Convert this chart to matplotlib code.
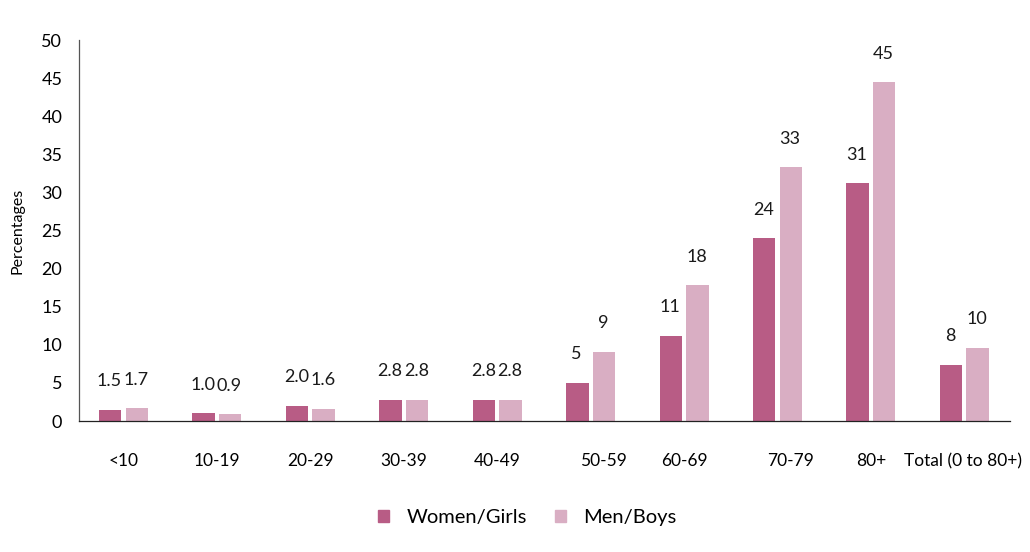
import numpy as np
import matplotlib.pyplot as plt
from matplotlib.patches import Patch

plt.rcParams['font.family'] = ['Lato', 'DejaVu Sans']

# data
groups = ['<10', '10-19', '20-29', '30-39', '40-49', '50-59', '60-69', '70-79', '80+', 'Total (0 to 80+)']
women = [1.5, 1.0, 2.0, 2.8, 2.8, 5.0, 11.2, 24.0, 31.2, 7.4]
men = [1.7, 0.9, 1.6, 2.8, 2.8, 9.1, 17.8, 33.3, 44.5, 9.6]
women_lbl = ['1.5', '1.0', '2.0', '2.8', '2.8', '5', '11', '24', '31', '8']
men_lbl = ['1.7', '0.9', '1.6', '2.8', '2.8', '9', '18', '33', '45', '10']

c_women = '#B85C85'
c_men = '#D9AEC3'

fig = plt.figure(figsize=(10.3, 5.52), dpi=100)
ax = fig.add_axes([0.0767, 0.2373, 0.904, 0.690])

x = np.arange(len(groups))
w = 0.24
off = 0.142
b1 = ax.bar(x - off, women, w, color=c_women)
b2 = ax.bar(x + off, men, w, color=c_men)

for bars, labels in [(b1, women_lbl), (b2, men_lbl)]:
    for b, t in zip(bars, labels):
        ax.annotate(t, (b.get_x() + b.get_width() / 2, b.get_height()),
                    xytext=(-0.5, 20.5), textcoords='offset points',
                    ha='center', va='center', fontsize=13, color='#1a1a1a')

# two of the category labels sit right of their group in the original
shift = np.array([0, 0, 0, 0, 0, 0.14, 0, 0.135, 0, -0.01])
ax.set_xlim(-0.476, 9.49)
ax.set_ylim(0, 50)
ax.set_yticks(range(0, 51, 5))
ax.set_xticks(x + shift)
ax.set_xticklabels(groups)
ax.tick_params(axis='x', length=0, pad=23, labelsize=12.5)
ax.tick_params(axis='y', length=0, pad=12, labelsize=13)
ax.set_ylabel('Percentages', fontsize=11.5, labelpad=12)

for s in ['top', 'right']:
    ax.spines[s].set_visible(False)
ax.spines['left'].set_color('#555555')
ax.spines['bottom'].set_color('#222222')
ax.spines['left'].set_linewidth(0.9)
ax.spines['bottom'].set_linewidth(0.9)

handles = [Patch(color=c_women, label='Women/Girls'), Patch(color=c_men, label='Men/Boys')]
fig.legend(handles=handles, loc='center', bbox_to_anchor=(0.512, 0.063), ncol=2,
           frameon=False, fontsize=14.5, handlelength=0.55, handleheight=0.55,
           columnspacing=1.4, handletextpad=0.85)

fig.savefig('out.png', dpi=100)
